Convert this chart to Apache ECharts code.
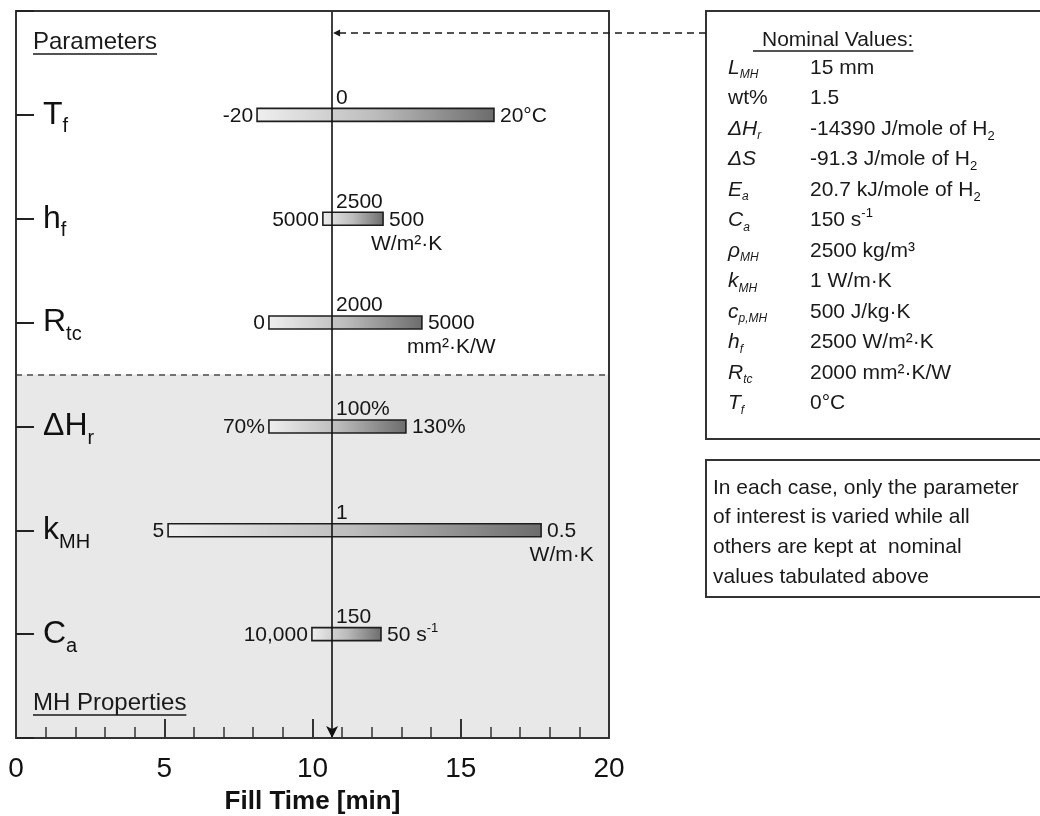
<!DOCTYPE html>
<html>
<head>
<meta charset="utf-8">
<script src="https://cdn.jsdelivr.net/npm/echarts@6/dist/echarts.min.js"></script>
<style>
html, body { margin: 0; padding: 0; background: #fff; }
#chart { width: 1040px; height: 816px; }
</style>
</head>
<body>
<div id="chart"></div>
<script>
// ---- data ----
const params = [['T', 'f'], ['h', 'f'], ['R', 'tc'], ['ΔH', 'r'], ['k', 'MH'], ['C', 'a']];
const lowTimes = [8.13, 10.35, 8.53, 8.53, 5.13, 9.98];      // fill time [min] at the low-end setting
const highTimes = [16.12, 12.38, 13.69, 13.15, 17.71, 12.31]; // fill time [min] at the high-end setting
const nominalTime = 10.66;
const lowLabels = ['-20', '5000', '0', '70%', '5', '10,000'];
const nominalLabels = ['0', '2500', '2000', '100%', '1', '150'];
const highLabels = ['20°C', '500', '5000', '130%', '0.5', '50 s^-1'];
const unitLabels = ['', 'W/m²·K', 'mm²·K/W', '', 'W/m·K', ''];
const xTickLabels = ['0', '5', '10', '15', '20'];
const groupTitles = ['Parameters', 'MH Properties'];
const nominalSymbols = [['L', 'MH'], ['wt%', ''], ['ΔH', 'r'], ['ΔS', ''], ['E', 'a'], ['C', 'a'],
  ['ρ', 'MH'], ['k', 'MH'], ['c', 'p,MH'], ['h', 'f'], ['R', 'tc'], ['T', 'f']];
const nominalValues = ['15 mm', '1.5', '-14390 J/mole of H_2', '-91.3 J/mole of H_2', '20.7 kJ/mole of H_2',
  '150 s^-1', '2500 kg/m³', '1 W/m·K', '500 J/kg·K', '2500 W/m²·K', '2000 mm²·K/W', '0°C'];
const noteLines = ['In each case, only the parameter', 'of interest is varied while all',
  'others are kept at  nominal', 'values tabulated above'];

// ---- helpers ----
const FONT = '"Liberation Sans", Arial, sans-serif';
const measureCtx = document.createElement('canvas').getContext('2d');
function textWidth(t, size, weight) {
  measureCtx.font = (weight || 'normal') + ' ' + size + 'px ' + FONT;
  return measureCtx.measureText(t).width;
}
// "_x" -> subscript token, "^x" -> superscript token
function markup(s) {
  return s.replace(/_([\w\-]+)/g, '{sb|$1}').replace(/\^([\w\-]+)/g, '{sp|$1}');
}
const scriptRich = {
  sb: { fontSize: 13, fontFamily: FONT, fill: '#111', color: '#111', padding: [14, 0, 0, 0] },
  sp: { fontSize: 13, fontFamily: FONT, fill: '#111', color: '#111', padding: [0, 0, 14, 0] }
};

const barData = params.map((p, i) => [lowTimes[i], highTimes[i], i + 1]);

const chart = echarts.init(document.getElementById('chart'), null, { renderer: 'canvas' });

function renderBar(params, api) {
  const i = params.dataIndex;
  const lo = api.coord([api.value(0), api.value(2)]);
  const hi = api.coord([api.value(1), api.value(2)]);
  const nom = api.coord([nominalTime, api.value(2)]);
  const h = 13;
  const y = lo[1];
  const txt = (text, x, yy, align) => ({
    type: 'text', x: x, y: yy, z2: 10,
    style: {
      text: markup(text), fill: '#161616', fontSize: 21, fontFamily: FONT,
      align: align, verticalAlign: 'middle', rich: scriptRich
    }
  });
  const children = [
    {
      type: 'rect',
      shape: { x: lo[0], y: y - h / 2, width: hi[0] - lo[0], height: h },
      style: {
        fill: new echarts.graphic.LinearGradient(0, 0, 1, 0, [
          { offset: 0, color: '#efefef' },
          { offset: 0.5, color: '#bcbcbc' },
          { offset: 1, color: '#6c6c6c' }
        ]),
        stroke: '#1e1e1e', lineWidth: 1.6
      }
    },
    txt(lowLabels[i], lo[0] - 4, y + 1, 'right'),
    txt(highLabels[i], hi[0] + 6, y + 1, 'left'),
    txt(nominalLabels[i], nom[0] + 4, y - 17, 'left')
  ];
  if (unitLabels[i]) {
    const cx = hi[0] + 6 + textWidth(highLabels[i], 21) / 2;
    children.push(txt(unitLabels[i], cx, y + 25, 'center'));
  }
  return { type: 'group', children: children };
}

const option = {
  animation: false,
  backgroundColor: '#fff',
  textStyle: { fontFamily: FONT },
  grid: { left: 16, top: 11, right: 431, bottom: 78, containLabel: false, outerBoundsMode: 'none' },
  xAxis: [
    {
      type: 'value', position: 'bottom', min: 0, max: 20, interval: 5, z: 10,
      axisLine: { show: true, onZero: false, lineStyle: { color: '#333', width: 2 } },
      axisTick: { show: true, inside: true, length: 19, lineStyle: { color: '#333', width: 2 } },
      minorTick: { show: true, splitNumber: 5, length: 11, lineStyle: { color: '#333', width: 1.5 } },
      splitLine: { show: false },
      axisLabel: {
        show: true, fontSize: 28, color: '#111', margin: 17, fontFamily: FONT,
        formatter: v => xTickLabels[Math.round(v / 5)] || ''
      },
      name: 'Fill Time [min]', nameLocation: 'middle', nameGap: 51,
      nameTextStyle: { fontSize: 26, fontWeight: 'bold', color: '#111', fontFamily: FONT }
    },
    {
      type: 'value', position: 'top', min: 0, max: 20, z: 10,
      axisLine: { show: true, onZero: false, lineStyle: { color: '#333', width: 2 } },
      axisTick: { show: false }, axisLabel: { show: false }, splitLine: { show: false }
    }
  ],
  yAxis: [
    {
      type: 'value', position: 'left', min: 0, max: 7, interval: 1, inverse: true, z: 10,
      axisLine: { show: true, onZero: false, lineStyle: { color: '#333', width: 2 } },
      axisTick: { show: true, inside: true, length: 18, lineStyle: { color: '#222', width: 2 } },
      splitLine: { show: false },
      axisLabel: {
        show: true, inside: true, margin: 27, color: '#111',
        formatter: v => {
          const p = params[v - 1];
          return p ? '{m|' + p[0] + '}{s|' + p[1] + '}' : '';
        },
        rich: {
          m: { fontSize: 32, fontFamily: FONT, color: '#111' },
          s: { fontSize: 20, fontFamily: FONT, color: '#111', padding: [24, 0, 0, 0] }
        }
      }
    },
    {
      type: 'value', position: 'right', min: 0, max: 7, inverse: true, z: 10,
      axisLine: { show: true, onZero: false, lineStyle: { color: '#333', width: 2 } },
      axisTick: { show: false }, axisLabel: { show: false }, splitLine: { show: false }
    }
  ],
  series: [
    {
      // shaded metal-hydride block and the dashed divider
      type: 'scatter', data: [], z: 1, silent: true,
      markArea: {
        silent: true,
        itemStyle: { color: '#e8e8e8' },
        data: [[{ yAxis: 3.5 }, { yAxis: 7 }]]
      },
      markLine: {
        silent: true, symbol: ['none', 'none'], label: { show: false },
        lineStyle: { color: '#4a4a4a', width: 1.5, type: [6, 5] },
        data: [{ yAxis: 3.5 }]
      }
    },
    {
      type: 'custom', z: 3, silent: true,
      renderItem: renderBar,
      encode: { x: [0, 1], y: 2 },
      data: barData
    },
    {
      // nominal fill time
      type: 'scatter', data: [], z: 5, silent: true,
      markLine: {
        silent: true, symbol: ['none', 'arrow'], symbolSize: [9, 12], label: { show: false },
        lineStyle: { color: '#111', width: 1.6, type: 'solid' },
        data: [[{ coord: [nominalTime, 0] }, { coord: [nominalTime, 7] }]]
      }
    }
  ]
};
chart.setOption(option);

// ---- annotations: group titles, nominal-value table, note box ----
const g = [];
const nomX = chart.convertToPixel({ xAxisIndex: 0 }, nominalTime);

function underlined(text, x, y, size) {
  const w = textWidth(text, size);
  g.push({ type: 'text', x: x, y: y, z: 20,
    style: { text: text, fontSize: size, fontFamily: FONT, fill: '#1a1a1a', verticalAlign: 'middle' } });
  g.push({ type: 'line', z: 20, shape: { x1: x, y1: y + size * 0.5, x2: x + w, y2: y + size * 0.5 },
    style: { stroke: '#1a1a1a', lineWidth: 1.3 } });
}
underlined(groupTitles[0], 33, 42, 24);
underlined(groupTitles[1], 33, 703, 24);

// nominal-values box
const boxL = 706;
g.push({ type: 'rect', z: 20, shape: { x: boxL, y: 11, width: 360, height: 428 },
  style: { fill: '#fff', stroke: '#333', lineWidth: 2 } });
g.push({ type: 'rect', z: 20, shape: { x: boxL, y: 460, width: 360, height: 137 },
  style: { fill: '#fff', stroke: '#333', lineWidth: 2 } });

const nvTitle = 'Nominal Values:';
g.push({ type: 'text', x: 762, y: 40, z: 21,
  style: { text: nvTitle, fontSize: 21, fontFamily: FONT, fill: '#1a1a1a', verticalAlign: 'middle' } });
g.push({ type: 'line', z: 21, shape: { x1: 753, y1: 51, x2: 762 + textWidth(nvTitle, 21), y2: 51 },
  style: { stroke: '#1a1a1a', lineWidth: 1.3 } });

nominalSymbols.forEach((sym, k) => {
  const y = 68 + 30.5 * k;
  const italic = sym[0] !== 'wt%';
  const lbl = '{m|' + sym[0] + '}' + (sym[1] ? '{s|' + sym[1] + '}' : '');
  g.push({ type: 'text', x: 728, y: y, z: 21,
    style: {
      text: lbl, verticalAlign: 'middle', fill: '#1a1a1a',
      rich: {
        m: { fontSize: 21, fontFamily: FONT, fontStyle: italic ? 'italic' : 'normal', fill: '#1a1a1a' },
        s: { fontSize: 12, fontFamily: FONT, fontStyle: 'italic', fill: '#1a1a1a', padding: [14, 0, 0, 0] }
      }
    } });
  g.push({ type: 'text', x: 810, y: y, z: 21,
    style: { text: markup(nominalValues[k]), fontSize: 21, fontFamily: FONT, fill: '#1a1a1a',
      verticalAlign: 'middle', rich: scriptRich } });
});

noteLines.forEach((line, k) => {
  g.push({ type: 'text', x: 713, y: 488 + 29.7 * k, z: 21,
    style: { text: line, fontSize: 21, fontFamily: FONT, fill: '#1a1a1a', verticalAlign: 'middle' } });
});

// dashed pointer from the table to the nominal line
g.push({ type: 'line', z: 21, shape: { x1: boxL, y1: 33, x2: nomX + 7, y2: 33 },
  style: { stroke: '#1a1a1a', lineWidth: 1.6, lineDash: [7, 5] } });
g.push({ type: 'polygon', z: 21, shape: { points: [[nomX + 1, 33], [nomX + 8, 29.5], [nomX + 8, 36.5]] },
  style: { fill: '#1a1a1a' } });

chart.setOption({ graphic: { elements: g } });
</script>
</body>
</html>
